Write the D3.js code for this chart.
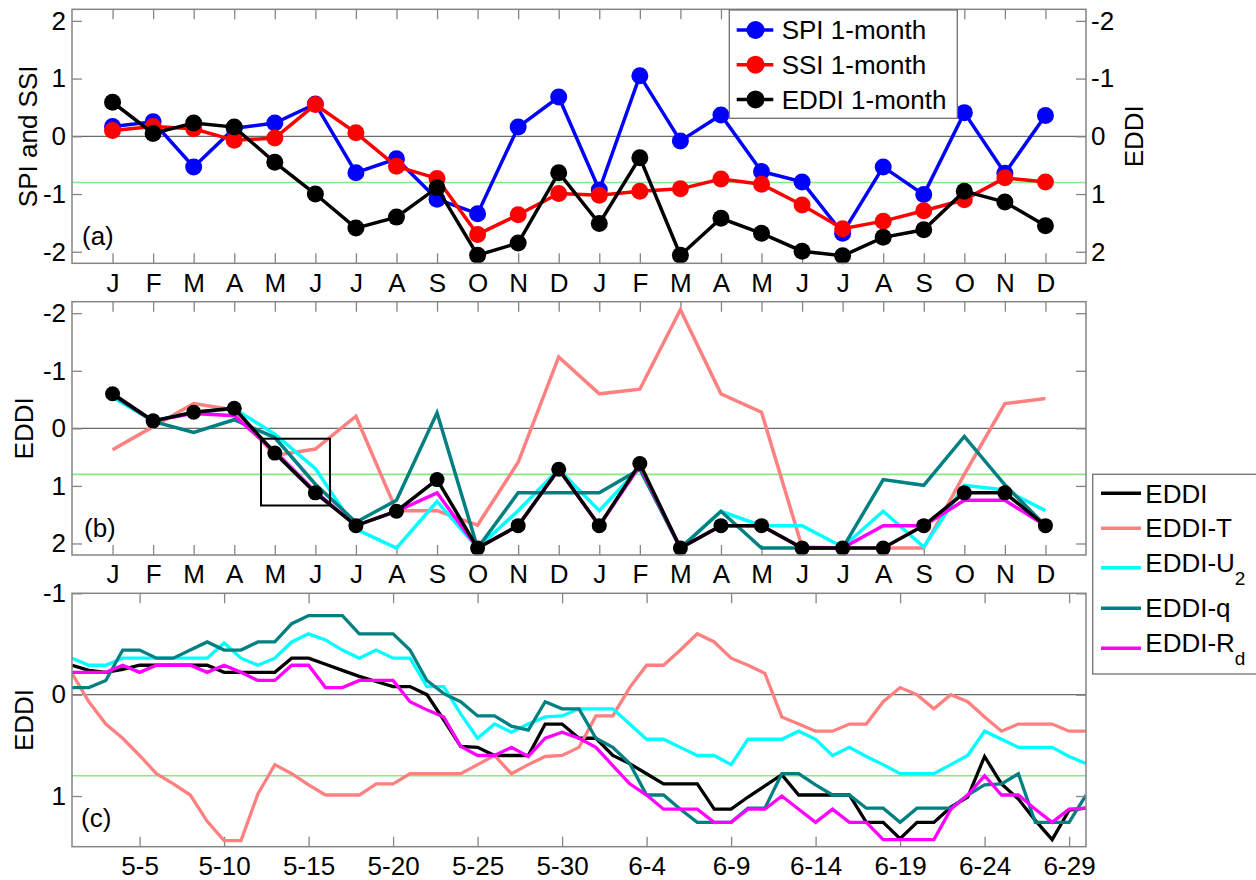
<!DOCTYPE html>
<html>
<head>
<meta charset="utf-8">
<script src="https://cdn.jsdelivr.net/npm/d3@7"></script>
<style>
  body { margin: 0; background: #fff; }
  svg text { font-family: "Liberation Sans", Arial, Helvetica, sans-serif; }
</style>
</head>
<body>
<svg id="chart" width="1256" height="880"></svg>
<script>
// ---- monthly indices, two years (Jan..Dec, Jan..Dec) ----
const monthLabels = ["J","F","M","A","M","J","J","A","S","O","N","D",
                     "J","F","M","A","M","J","J","A","S","O","N","D"];
const spi1 = [0.17, 0.25, -0.53, 0.14, 0.23, 0.56, -0.63, -0.39, -1.09, -1.34, 0.16, 0.68,
              -0.93, 1.05, -0.08, 0.37, -0.61, -0.79, -1.68, -0.53, -1.01, 0.41, -0.64, 0.36];
const ssi1 = [0.10, 0.17, 0.13, -0.07, -0.03, 0.55, 0.06, -0.52, -0.73, -1.70, -1.36, -0.99,
              -1.02, -0.95, -0.91, -0.74, -0.83, -1.19, -1.60, -1.47, -1.29, -1.10, -0.72, -0.79];
const eddi1 = [-0.59, -0.05, -0.23, -0.16, 0.45, 1.00, 1.59, 1.40, 0.89, 2.06, 1.85, 0.63,
               1.51, 0.37, 2.06, 1.42, 1.68, 1.99, 2.07, 1.75, 1.62, 0.95, 1.14, 1.55];

// EDDI and its single-driver variants
const eddiM = [-0.60, -0.13, -0.28, -0.35, 0.43, 1.12, 1.69, 1.44, 0.89, 2.08, 1.69, 0.71,
               1.69, 0.61, 2.08, 1.69, 1.69, 2.08, 2.08, 2.08, 1.69, 1.12, 1.12, 1.69];
const eddiTM = [0.37, -0.03, -0.43, -0.32, 0.47, 0.36, -0.21, 1.43, 1.43, 1.68, 0.59, -1.24,
                -0.60, -0.68, -2.06, -0.60, -0.28, 2.06, 2.08, 2.08, 2.08, 0.80, -0.43, -0.52];
const eddiU2M = [-0.54, -0.13, -0.28, -0.34, 0.10, 0.70, 1.75, 2.08, 1.27, 2.08, 1.43, 0.71,
                 1.43, 0.68, 2.08, 1.44, 1.69, 1.69, 2.06, 1.44, 2.06, 0.99, 1.07, 1.43];
const eddiQM = [-0.58, -0.12, 0.07, -0.15, 0.16, 0.97, 1.63, 1.25, -0.27, 2.08, 1.12, 1.12,
                1.12, 0.71, 2.08, 1.44, 2.08, 2.08, 2.08, 0.89, 0.99, 0.14, 0.98, 1.69];
const eddiRdM = [-0.60, -0.13, -0.26, -0.22, 0.40, 1.10, 1.69, 1.44, 1.12, 2.08, 1.69, 0.71,
                 1.69, 0.65, 2.08, 1.69, 1.69, 2.08, 2.08, 1.69, 1.69, 1.25, 1.25, 1.69];

// May-June window outlined in panel (b): month positions and EDDI range
const boxMonths = [4.66, 6.36];
const boxEddi = [0.18, 1.34];

// ---- daily EDDI, 1 May .. 30 June ----
const dayTicks = [5, 10, 15, 20, 25, 30, 35, 40, 45, 50, 55, 60];
const dayTickLabels = ["5-5","5-10","5-15","5-20","5-25","5-30","6-4","6-9","6-14","6-19","6-24","6-29"];
const eddiD = [-0.29, -0.24, -0.22, -0.25, -0.29, -0.29, -0.29, -0.29, -0.29, -0.22,
               -0.22, -0.22, -0.22, -0.36, -0.36, -0.30, -0.24, -0.18, -0.13, -0.08,
               -0.08, 0.00, 0.25, 0.51, 0.52, 0.60, 0.60, 0.60, 0.29, 0.29,
               0.43, 0.43, 0.60, 0.68, 0.78, 0.88, 0.88, 0.88, 1.13, 1.13,
               1.01, 0.90, 0.79, 0.99, 0.99, 0.99, 0.99, 1.26, 1.26, 1.42,
               1.26, 1.26, 1.11, 1.01, 0.61, 0.88, 1.03, 1.24, 1.43, 1.14, 1.12];
const eddiTD = [-0.21, 0.07, 0.29, 0.43, 0.60, 0.78, 0.88, 0.99, 1.25, 1.44,
                1.44, 0.98, 0.69, 0.78, 0.89, 0.99, 0.99, 0.99, 0.88, 0.88,
                0.78, 0.78, 0.78, 0.78, 0.69, 0.60, 0.78, 0.69, 0.61, 0.60,
                0.52, 0.21, 0.21, -0.07, -0.29, -0.29, -0.44, -0.60, -0.52, -0.36,
                -0.29, -0.21, 0.22, 0.29, 0.36, 0.36, 0.29, 0.29, 0.07, -0.07,
                0.00, 0.14, 0.00, 0.07, 0.22, 0.36, 0.29, 0.29, 0.29, 0.36, 0.36];
const eddiU2D = [-0.36, -0.29, -0.29, -0.36, -0.36, -0.36, -0.36, -0.36, -0.36, -0.51,
                 -0.36, -0.29, -0.36, -0.52, -0.60, -0.54, -0.44, -0.36, -0.44, -0.36,
                 -0.36, -0.08, -0.08, 0.19, 0.43, 0.29, 0.37, 0.29, 0.22, 0.21,
                 0.14, 0.14, 0.14, 0.29, 0.44, 0.44, 0.52, 0.60, 0.60, 0.69,
                 0.44, 0.44, 0.44, 0.36, 0.44, 0.60, 0.52, 0.61, 0.69, 0.78,
                 0.78, 0.78, 0.69, 0.60, 0.36, 0.44, 0.52, 0.52, 0.52, 0.61, 0.68];
const eddiQD = [-0.07, -0.07, -0.14, -0.44, -0.44, -0.36, -0.36, -0.44, -0.52, -0.44,
                -0.44, -0.52, -0.52, -0.70, -0.78, -0.78, -0.78, -0.60, -0.60, -0.60,
                -0.44, -0.14, -0.01, 0.07, 0.21, 0.21, 0.31, 0.35, 0.07, 0.14,
                0.14, 0.43, 0.52, 0.68, 0.99, 0.99, 1.13, 1.26, 1.26, 1.26,
                1.12, 1.12, 0.78, 0.78, 0.89, 0.99, 0.99, 1.12, 1.12, 1.26,
                1.12, 1.12, 1.12, 0.99, 0.89, 0.88, 0.78, 1.26, 1.26, 1.26, 0.99];
const eddiRdD = [-0.22, -0.22, -0.22, -0.29, -0.22, -0.29, -0.29, -0.29, -0.22, -0.29,
                 -0.22, -0.14, -0.14, -0.29, -0.29, -0.07, -0.07, -0.14, -0.14, -0.14,
                 0.07, 0.15, 0.22, 0.51, 0.60, 0.60, 0.52, 0.61, 0.43, 0.37,
                 0.43, 0.52, 0.70, 0.88, 0.99, 1.13, 1.13, 1.13, 1.26, 1.26,
                 1.13, 1.13, 1.00, 1.13, 1.26, 1.13, 1.26, 1.26, 1.43, 1.43,
                 1.43, 1.43, 1.13, 0.99, 0.80, 0.99, 0.99, 1.13, 1.26, 1.13, 1.12];

const drought = 0.8;   // moderate-drought threshold (EDDI), -0.8 on SPI/SSI

// ---- layout ----
const svg = d3.select("#chart");
const FONT = 26;
const X0 = 72, X1 = 1086;
const PA = {top: 9.3, bottom: 263.3};
const PB = {top: 301.7, bottom: 555};
const PC = {top: 593.3, bottom: 846.7};
const FRAME = "#858585";
const COL = {spi: "#0000ff", ssi: "#ff0000", eddi: "#000000",
             T: "#ff8080", U2: "#00ffff", q: "#008080", Rd: "#ff00ff"};

const xMonth = d3.scaleLinear().domain([0, 25]).range([X0, X1]);
const xDay = d3.scaleLinear().domain([1, 61]).range([X0, X1]);
const yA = d3.scaleLinear().domain([-2.2, 2.2]).range([PA.bottom, PA.top]);
const yAR = d3.scaleLinear().domain([-2.2, 2.2]).range([PA.top, PA.bottom]);
const yB = d3.scaleLinear().domain([-2.2, 2.2]).range([PB.top, PB.bottom]);
const yC = d3.scaleLinear().domain([-1, 1.5]).range([PC.top, PC.bottom]);
const months = d3.range(1, 25);
const days = d3.range(1, 62);

function styleAxis(g) {
  g.select(".domain").remove();
  g.selectAll(".tick line").attr("stroke", FRAME).attr("stroke-width", 1.3);
  g.selectAll(".tick text").attr("fill", "#000").style("font-size", FONT + "px")
    .style("font-family", '"Liberation Sans", Arial, Helvetica, sans-serif');
}

function panel(P, x, y, xTicks, xFmt, yTicks, clipId, thresholdY) {
  const g = svg.append("g");
  g.append("defs").append("clipPath").attr("id", clipId)
    .append("rect").attr("x", X0).attr("y", P.top).attr("width", X1 - X0).attr("height", P.bottom - P.top);
  // reference lines: drought threshold and zero
  g.append("line").attr("x1", X0).attr("x2", X1).attr("y1", thresholdY).attr("y2", thresholdY)
    .attr("stroke", "#86e886").attr("stroke-width", 1.6);
  g.append("line").attr("x1", X0).attr("x2", X1).attr("y1", y(0)).attr("y2", y(0))
    .attr("stroke", "#6a6a6a").attr("stroke-width", 1.2);
  // axes with inward ticks on all four sides
  g.append("g").attr("transform", `translate(0,${P.bottom})`)
    .call(d3.axisBottom(x).tickValues(xTicks).tickFormat(xFmt).tickSizeInner(-10).tickSizeOuter(0).tickPadding(10))
    .call(styleAxis);
  g.append("g").attr("transform", `translate(0,${P.top})`)
    .call(d3.axisTop(x).tickValues(xTicks).tickFormat("").tickSizeInner(-10).tickSizeOuter(0))
    .call(styleAxis);
  g.append("g").attr("transform", `translate(${X0},0)`)
    .call(d3.axisLeft(y).tickValues(yTicks).tickFormat(d => String(d)).tickSizeInner(-10).tickSizeOuter(0).tickPadding(6))
    .call(styleAxis);
  return g;
}

function frame(P) {
  svg.append("rect").attr("x", X0).attr("y", P.top).attr("width", X1 - X0).attr("height", P.bottom - P.top)
    .attr("fill", "none").attr("stroke", FRAME).attr("stroke-width", 1.5);
}

function series(g, x, y, xs, vals, color, width, clipId) {
  g.append("path").datum(vals)
    .attr("clip-path", `url(#${clipId})`)
    .attr("fill", "none").attr("stroke", color).attr("stroke-width", width)
    .attr("stroke-linejoin", "miter").attr("stroke-miterlimit", 3)
    .attr("d", d3.line().x((d, i) => x(xs[i])).y(d => y(d)));
}

function markers(g, x, y, xs, vals, color, r) {
  g.selectAll(null).data(vals).enter().append("circle")
    .attr("cx", (d, i) => x(xs[i])).attr("cy", d => y(d)).attr("r", r).attr("fill", color);
}

function rightTicks(P, y, yTicks, labels) {
  return svg.append("g").attr("transform", `translate(${X1},0)`)
    .call(d3.axisRight(y).tickValues(yTicks).tickFormat(labels ? (d => String(d)) : "")
      .tickSizeInner(-10).tickSizeOuter(0).tickPadding(5))
    .call(styleAxis);
}

function ylabel(text, xb, yc) {
  svg.append("text").attr("transform", `translate(${xb},${yc}) rotate(-90)`)
    .attr("text-anchor", "middle").style("font-size", FONT + "px").text(text);
}

function tag(text, xl, yb) {
  svg.append("text").attr("x", xl).attr("y", yb).style("font-size", FONT + "px").text(text);
}

const monthFmt = d => monthLabels[d - 1];

// ================= panel (a) =================
const ga = panel(PA, xMonth, yA, months, monthFmt, [-2, -1, 0, 1, 2], "clipA", yA(-drought));
rightTicks(PA, yAR, [-2, -1, 0, 1, 2], true);
series(ga, xMonth, yA, months, spi1, COL.spi, 3.5, "clipA");
markers(ga, xMonth, yA, months, spi1, COL.spi, 8.5);
series(ga, xMonth, yA, months, ssi1, COL.ssi, 3.5, "clipA");
markers(ga, xMonth, yA, months, ssi1, COL.ssi, 8.5);
series(ga, xMonth, yAR, months, eddi1, COL.eddi, 3.5, "clipA");
markers(ga, xMonth, yAR, months, eddi1, COL.eddi, 8.5);
frame(PA);
ylabel("SPI and SSI", 37, (PA.top + PA.bottom) / 2);
ylabel("EDDI", 1143, (PA.top + PA.bottom) / 2);
tag("(a)", 82, 245);

// legend (a)
const legA = [
  {name: "SPI 1-month", color: COL.spi},
  {name: "SSI 1-month", color: COL.ssi},
  {name: "EDDI 1-month", color: COL.eddi}
];
svg.append("rect").attr("x", 729.3).attr("y", 10).attr("width", 228).attr("height", 108.3)
  .attr("fill", "#fff").attr("stroke", "#707070").attr("stroke-width", 1.3);
legA.forEach((d, i) => {
  const ly = 30 + i * 34.7;
  svg.append("line").attr("x1", 736.7).attr("x2", 773.3).attr("y1", ly).attr("y2", ly)
    .attr("stroke", d.color).attr("stroke-width", 3.5);
  svg.append("circle").attr("cx", 755.5).attr("cy", ly).attr("r", 9).attr("fill", d.color);
  svg.append("text").attr("x", 781.7).attr("y", ly).attr("dy", "0.36em")
    .style("font-size", "26px").text(d.name);
});

// ================= panel (b) =================
const gb = panel(PB, xMonth, yB, months, monthFmt, [-2, -1, 0, 1, 2], "clipB", yB(drought));
rightTicks(PB, yB, [-2, -1, 0, 1, 2], false);
series(gb, xMonth, yB, months, eddiTM, COL.T, 3.5, "clipB");
series(gb, xMonth, yB, months, eddiU2M, COL.U2, 3.5, "clipB");
series(gb, xMonth, yB, months, eddiQM, COL.q, 3.5, "clipB");
series(gb, xMonth, yB, months, eddiRdM, COL.Rd, 3.5, "clipB");
series(gb, xMonth, yB, months, eddiM, COL.eddi, 3.5, "clipB");
markers(gb, xMonth, yB, months, eddiM, COL.eddi, 7.5);
gb.append("rect")
  .attr("x", xMonth(boxMonths[0])).attr("y", yB(boxEddi[0]))
  .attr("width", xMonth(boxMonths[1]) - xMonth(boxMonths[0]))
  .attr("height", yB(boxEddi[1]) - yB(boxEddi[0]))
  .attr("fill", "none").attr("stroke", "#000").attr("stroke-width", 2);
frame(PB);
ylabel("EDDI", 33, (PB.top + PB.bottom) / 2);
tag("(b)", 84, 536.7);

// ================= panel (c) =================
const gc = panel(PC, xDay, yC, dayTicks, (d, i) => dayTickLabels[i], [-1, 0, 1], "clipC", yC(drought));
rightTicks(PC, yC, [-1, 0, 1], false);
series(gc, xDay, yC, days, eddiD, COL.eddi, 3.3, "clipC");
series(gc, xDay, yC, days, eddiTD, COL.T, 3.3, "clipC");
series(gc, xDay, yC, days, eddiU2D, COL.U2, 3.3, "clipC");
series(gc, xDay, yC, days, eddiQD, COL.q, 3.3, "clipC");
series(gc, xDay, yC, days, eddiRdD, COL.Rd, 3.3, "clipC");
frame(PC);
ylabel("EDDI", 33, (PC.top + PC.bottom) / 2);
tag("(c)", 81, 826.7);

// legend (b/c)
const legB = [
  {base: "EDDI", sub: null, color: COL.eddi, ly: 493.3, tb: 502.5},
  {base: "EDDI-T", sub: null, color: COL.T, ly: 528.3, tb: 537},
  {base: "EDDI-U", sub: "2", color: COL.U2, ly: 567.7, tb: 571.7},
  {base: "EDDI-q", sub: null, color: COL.q, ly: 608.3, tb: 616.7},
  {base: "EDDI-R", sub: "d", color: COL.Rd, ly: 648.3, tb: 651.7}
];
svg.append("rect").attr("x", 1092.7).attr("y", 474.3).attr("width", 220).attr("height", 199.7)
  .attr("fill", "#fff").attr("stroke", "#707070").attr("stroke-width", 1.3);
legB.forEach(d => {
  svg.append("line").attr("x1", 1101).attr("x2", 1141).attr("y1", d.ly).attr("y2", d.ly)
    .attr("stroke", d.color).attr("stroke-width", 3.5);
  const t = svg.append("text").attr("x", 1145.3).attr("y", d.tb).style("font-size", "26px");
  t.append("tspan").text(d.base);
  if (d.sub) {
    t.append("tspan").attr("dy", 13).style("font-size", "19px").text(d.sub);
  }
});
</script>
</body>
</html>
